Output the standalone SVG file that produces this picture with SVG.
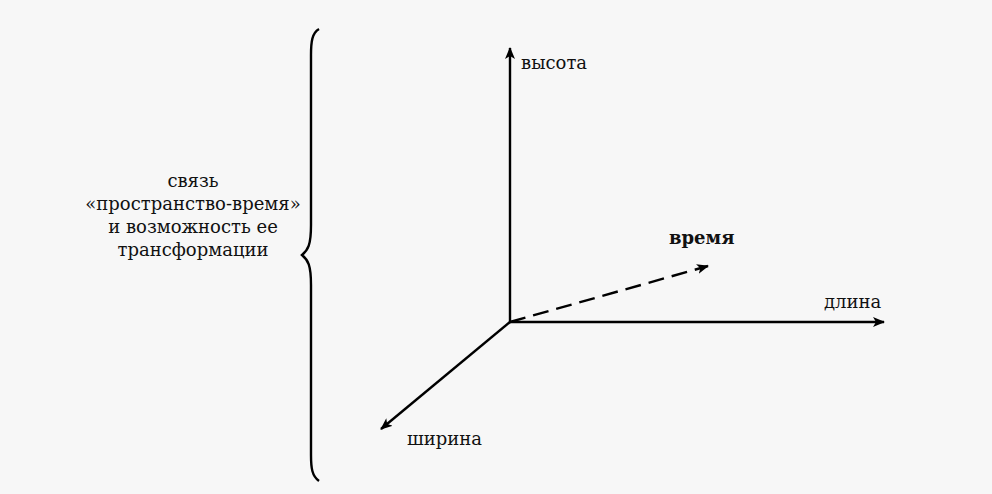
<svg xmlns="http://www.w3.org/2000/svg" width="992" height="494" viewBox="0 0 992 494">
<style>
text{font-family:"DejaVu Serif","Liberation Serif",serif;font-size:18px;fill:#111}
.ax{stroke:#000;stroke-width:2.4;fill:none}
</style>
<defs>
<marker id="a" viewBox="0 0 12 10" refX="11" refY="5" markerWidth="12" markerHeight="10" orient="auto" markerUnits="userSpaceOnUse">
<path d="M0,0 L12,5 L0,10 L3,5 Z" fill="#000"/>
</marker>
</defs>
<rect width="992" height="494" fill="#f7f7f7"/>
<g id="brace">
<path class="ax" stroke-width="2" d="M319,29 C312,33 311,42 311,55 L311,225 C311,245 308,250 302,255 C308,260 311,265 311,285 L311,455 C311,468 312,476 319,481"/>
</g>
<g id="label-left">
<text x="193" y="187" text-anchor="middle">связь</text>
<text x="193" y="210" text-anchor="middle">«пространство-время»</text>
<text x="193" y="233" text-anchor="middle">и возможность ее</text>
<text x="193" y="256" text-anchor="middle">трансформации</text>
</g>
<g id="connectors">
<line class="ax" x1="510" y1="322" x2="510" y2="48" marker-end="url(#a)"/>
<line class="ax" x1="510" y1="322" x2="884" y2="322" marker-end="url(#a)"/>
<line class="ax" x1="510" y1="322" x2="381" y2="429" marker-end="url(#a)"/>
<line class="ax" x1="510" y1="322" x2="708" y2="266" stroke-dasharray="16,8" marker-end="url(#a)"/>
</g>
<g id="n-height"><text x="521" y="69">высота</text></g>
<g id="n-time"><text x="669" y="244" font-weight="bold">время</text></g>
<g id="n-length"><text x="824" y="308">длина</text></g>
<g id="n-width"><text x="407" y="445">ширина</text></g>
</svg>
